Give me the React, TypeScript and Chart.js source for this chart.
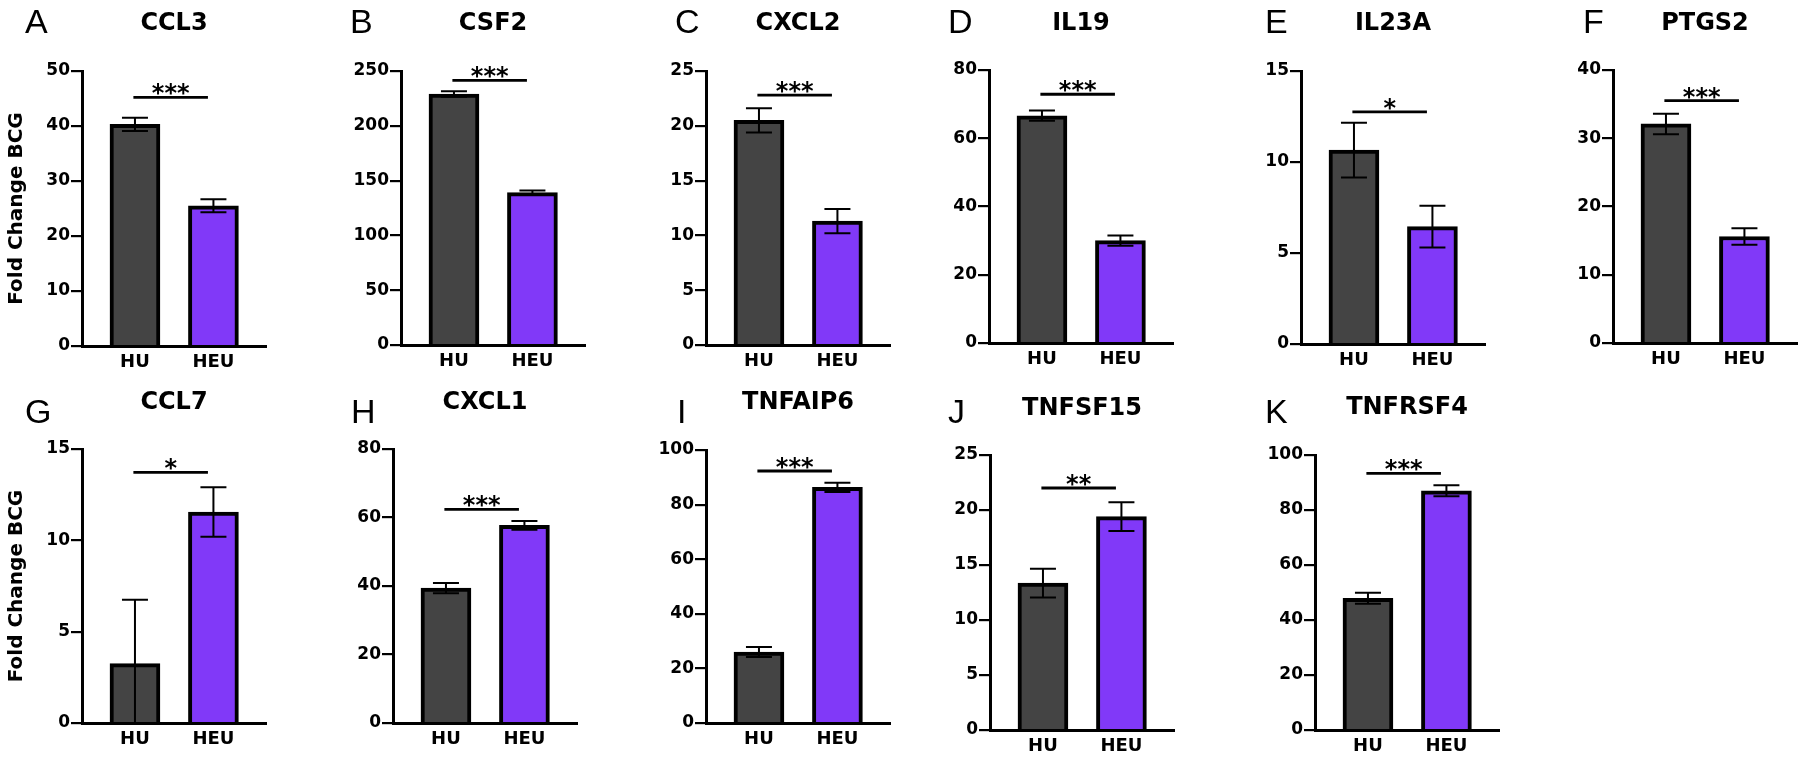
import React, { useEffect, useRef } from 'react';
import { Chart, registerables } from 'chart.js';

Chart.register(...registerables);

// ---------- data ----------
const genes = ['CCL3', 'CSF2', 'CXCL2', 'IL19', 'IL23A', 'PTGS2', 'CCL7', 'CXCL1', 'TNFAIP6', 'TNFSF15', 'TNFRSF4'];
const panelLetters = ['A', 'B', 'C', 'D', 'E', 'F', 'G', 'H', 'I', 'J', 'K'];
const groups = ['HU', 'HEU'];
const huMean = [40.3, 229, 20.5, 66.6, 10.65, 32.1, 3.25, 39.4, 26.0, 13.35, 47.9];
const huErr = [1.2, 2.5, 1.1, 1.5, 1.5, 1.5, 3.5, 1.5, 1.8, 1.3, 2.0];
const heuMean = [25.5, 139, 11.3, 30.0, 6.45, 15.6, 11.55, 57.7, 86.3, 19.4, 87.0];
const heuErr = [1.2, 2.0, 1.1, 1.5, 1.15, 1.2, 1.35, 1.3, 1.7, 1.3, 2.0];
const yMax = [50, 250, 25, 80, 15, 40, 15, 80, 100, 25, 100];
const yStep = [10, 50, 5, 20, 5, 10, 5, 20, 20, 5, 20];
const sigLabels = ['***', '***', '***', '***', '*', '***', '*', '***', '***', '**', '***'];
const sigHeight = [45.2, 241.5, 22.8, 72.9, 12.75, 35.5, 13.72, 62.4, 92.3, 22.0, 93.3];
const yAxisLabel = 'Fold Change BCG';

// ---------- layout (page pixels) ----------
const axisLeft = [82, 401, 706, 989, 1301, 1613, 82, 393, 706, 990, 1315];
const areaTop = [71, 71, 71, 70, 71, 70, 449, 449, 450, 455, 455];
const areaBottom = [346, 345, 345, 343, 344, 343, 723, 723, 723, 730, 730];
const letterLeft = [25, 350, 675, 948, 1265, 1583, 25, 351, 677, 948, 1265];
const letterBase = [33, 33, 33, 33, 33, 33, 423, 423, 423, 423, 423];
const titleMid = [24, 24, 24, 24, 24, 24, 403, 403, 403, 409, 408];
const rowTop = [0, 0, 0, 0, 0, 0, 379, 379, 379, 379, 379];

const CW = 268;
const CH = 379;
const YW = 82;
const PW = 184;
const X_MIN = 0.325;
const X_MAX = 2.67;
const HU_COLOR = '#444444';
const HEU_COLOR = '#8139F8';
const FONT = 'DejaVu Sans';

function Panel({ i }: { i: number }) {
  const ref = useRef<HTMLCanvasElement | null>(null);
  const left = axisLeft[i] - YW;
  const top = rowTop[i];

  useEffect(() => {
    const canvas = ref.current;
    if (!canvas) return;
    const annot = {
      id: 'annot' + i,
      afterDatasetsDraw(chart: any) {
        const ctx = chart.ctx;
        const ys = chart.scales.y;
        const meta = chart.getDatasetMeta(0);
        const means = [huMean[i], heuMean[i]];
        const errs = [huErr[i], heuErr[i]];
        ctx.save();
        ctx.strokeStyle = '#000';
        ctx.lineWidth = 2;
        meta.data.forEach((bar: any, k: number) => {
          const x = bar.x;
          const yT = ys.getPixelForValue(means[k] + errs[k]);
          const yB = ys.getPixelForValue(Math.max(0, means[k] - errs[k]));
          ctx.beginPath();
          ctx.moveTo(x, yT);
          ctx.lineTo(x, yB);
          ctx.moveTo(x - 13, yT);
          ctx.lineTo(x + 13, yT);
          if (means[k] - errs[k] > 0) {
            ctx.moveTo(x - 13, yB);
            ctx.lineTo(x + 13, yB);
          }
          ctx.stroke();
        });
        ctx.restore();
      },
      afterDraw(chart: any) {
        const ctx = chart.ctx;
        const xs = chart.scales.x;
        const ys = chart.scales.y;
        ctx.save();
        // significance bar
        const sy = ys.getPixelForValue(sigHeight[i]);
        const x1 = xs.getPixelForValue(0.98);
        const x2 = xs.getPixelForValue(1.93);
        ctx.strokeStyle = '#000';
        ctx.lineWidth = 2.8;
        ctx.beginPath();
        ctx.moveTo(x1, sy);
        ctx.lineTo(x2, sy);
        ctx.stroke();
        ctx.fillStyle = '#000';
        ctx.font = `bold 24px "${FONT}"`;
        ctx.textAlign = 'center';
        ctx.textBaseline = 'alphabetic';
        ctx.fillText(sigLabels[i], (x1 + x2) / 2, sy + 4);
        // gene title
        ctx.font = `bold 24px "${FONT}"`;
        ctx.textBaseline = 'middle';
        ctx.fillText(genes[i], (chart.chartArea.left + chart.chartArea.right) / 2, titleMid[i] - top);
        // panel letter
        ctx.font = `34px "Liberation Sans"`;
        ctx.textAlign = 'left';
        ctx.textBaseline = 'alphabetic';
        ctx.fillText(panelLetters[i], letterLeft[i] - left, letterBase[i] - top);
        // y label on the first panel of a row
        if (i === 0 || i === 6) {
          ctx.translate(17 - left, (areaTop[i] + areaBottom[i]) / 2 - top);
          ctx.rotate(-Math.PI / 2);
          ctx.font = `bold 20px "${FONT}"`;
          ctx.textAlign = 'center';
          ctx.textBaseline = 'middle';
          ctx.fillText(yAxisLabel, 0, 0);
        }
        ctx.restore();
      },
    };

    const chart = new Chart(canvas, {
      type: 'bar',
      data: {
        datasets: [
          {
            data: [
              { x: 1, y: huMean[i] },
              { x: 2, y: heuMean[i] },
            ],
            backgroundColor: [HU_COLOR, HEU_COLOR],
            borderColor: '#000',
            borderWidth: 4,
            borderSkipped: 'start',
            barThickness: 50,
          },
        ],
      },
      options: {
        responsive: false,
        maintainAspectRatio: false,
        animation: false,
        devicePixelRatio: 1,
        layout: {
          padding: { left: 0, right: CW - YW - PW, top: areaTop[i] - top, bottom: 0 },
        },
        plugins: {
          legend: { display: false },
          tooltip: { enabled: false },
          title: { display: false },
        },
        scales: {
          x: {
            type: 'linear',
            min: X_MIN,
            max: X_MAX,
            offset: false,
            afterFit: (s: any) => {
              s.height = CH - (areaBottom[i] - top);
            },
            afterBuildTicks: (s: any) => {
              s.ticks = [{ value: 1 }, { value: 2 }];
            },
            ticks: {
              callback: (v: any) => groups[Number(v) - 1] ?? '',
              font: { family: FONT, size: 18, weight: 'bold' },
              color: '#000',
              padding: 6,
              autoSkip: false,
              maxRotation: 0,
            },
            grid: { display: false, drawTicks: false },
            border: { display: true, color: '#000', width: 3 },
          },
          y: {
            min: 0,
            max: yMax[i],
            afterFit: (s: any) => {
              s.width = YW;
            },
            ticks: {
              stepSize: yStep[i],
              font: { family: FONT, size: 17, weight: 'bold' },
              color: '#000',
              padding: 1,
            },
            grid: {
              display: true,
              drawOnChartArea: false,
              drawTicks: true,
              tickLength: 11,
              color: '#000',
              lineWidth: 2.2,
            },
            border: { display: true, color: '#000', width: 3 },
          },
        },
      } as any,
      plugins: [annot],
    });
    return () => chart.destroy();
  }, [i, left, top]);

  return (
    <canvas
      ref={ref}
      width={CW}
      height={CH}
      style={{ position: 'absolute', left, top, width: CW, height: CH }}
    />
  );
}

export default function App() {
  return (
    <div
      style={{
        position: 'absolute',
        left: 0,
        top: 0,
        width: 1800,
        height: 758,
        overflow: 'hidden',
        background: '#fff',
      }}
    >
      {genes.map((g, i) => (
        <Panel key={g} i={i} />
      ))}
    </div>
  );
}
